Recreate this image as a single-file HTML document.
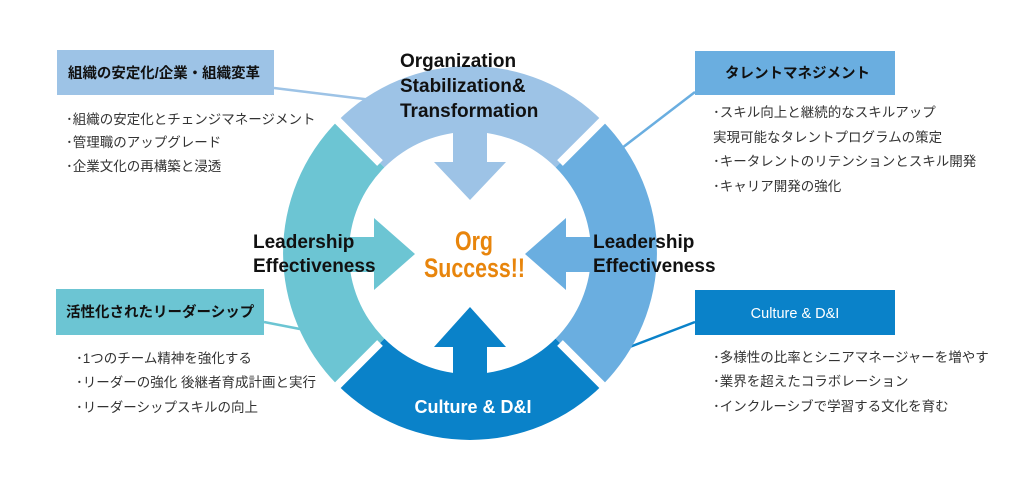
<!DOCTYPE html>
<html><head><meta charset="utf-8"><style>
body{margin:0;background:#fff;width:1024px;height:479px;overflow:hidden}
svg{display:block}
.jp{font-family:"Liberation Sans","Noto Sans CJK JP",sans-serif}
</style></head><body>
<svg width="1024" height="479" viewBox="0 0 1024 479" class="jp">
<line x1="274" y1="88" x2="372" y2="100" stroke="#9dc3e6" stroke-width="2.5"/>
<line x1="695" y1="92" x2="622" y2="148" stroke="#6aaee0" stroke-width="2.5"/>
<line x1="264" y1="322" x2="305" y2="330" stroke="#6cc5d3" stroke-width="2.5"/>
<line x1="695" y1="322" x2="580" y2="366" stroke="#0a82c9" stroke-width="2.5"/>
<path d="M337.8,120.8 A187,187 0 0 1 602.2,120.8 L555.6,167.4 A121,121 0 0 0 384.4,167.4 Z" fill="#9dc3e6"/>
<path d="M602.2,120.8 A187,187 0 0 1 602.2,385.2 L555.6,338.6 A121,121 0 0 0 555.6,167.4 Z" fill="#6aaee0"/>
<path d="M602.2,385.2 A187,187 0 0 1 337.8,385.2 L384.4,338.6 A121,121 0 0 0 555.6,338.6 Z" fill="#0a82c9"/>
<path d="M337.8,385.2 A187,187 0 0 1 337.8,120.8 L384.4,167.4 A121,121 0 0 0 384.4,338.6 Z" fill="#6cc5d3"/>
<g stroke="#fff" stroke-width="8">
<line x1="380" y1="163" x2="330" y2="113"/><line x1="560" y1="163" x2="610" y2="113"/>
<line x1="380" y1="343" x2="330" y2="393"/><line x1="560" y1="343" x2="610" y2="393"/>
</g>
<polygon points="453,120 487,120 487,162 506,162 470,200 434,162 453,162" fill="#9dc3e6"/>
<polygon points="335,237 374,237 374,218 415,254 374,290 374,272 335,272" fill="#6cc5d3"/>
<polygon points="605,237 566,237 566,218 525,254 566,290 566,272 605,272" fill="#6aaee0"/>
<polygon points="453,385 487,385 487,347 506,347 470,307 434,347 453,347" fill="#0a82c9"/>
<g font-family="Liberation Sans, sans-serif" font-weight="bold" font-size="19" fill="#111">
<text x="400" y="67">Organization</text>
<text x="400" y="92">Stabilization&amp;</text>
<text x="400" y="117">Transformation</text>
<text x="253" y="248">Leadership</text>
<text x="253" y="272">Effectiveness</text>
<text x="593" y="248">Leadership</text>
<text x="593" y="272">Effectiveness</text>
</g>
<text x="473" y="413" text-anchor="middle" font-family="Liberation Sans, sans-serif" font-weight="bold" font-size="18" fill="#fff">Culture &amp; D&amp;I</text>
<g font-family="Liberation Sans Narrow, Liberation Sans, sans-serif" font-weight="bold" font-size="27" fill="#e8850c">
<text x="455" y="250" textLength="38" lengthAdjust="spacingAndGlyphs">Org</text>
<text x="424" y="277" textLength="101" lengthAdjust="spacingAndGlyphs">Success!!</text>
</g>
<rect x="57" y="50" width="217" height="45" fill="#9dc3e6"/>
<text x="68" y="78" font-size="14.5" font-weight="bold" fill="#111" textLength="192" lengthAdjust="spacingAndGlyphs">組織の安定化/企業・組織変革</text>
<rect x="695" y="51" width="200" height="44" fill="#6aaee0"/>
<text x="725" y="78" font-size="14.5" font-weight="bold" fill="#111">タレントマネジメント</text>
<rect x="56" y="289" width="208" height="46" fill="#6cc5d3"/>
<text x="66" y="317" font-size="14.5" font-weight="bold" fill="#111">活性化されたリーダーシップ</text>
<rect x="695" y="290" width="200" height="45" fill="#0a82c9"/>
<text x="795" y="318" text-anchor="middle" font-family="Liberation Sans, sans-serif" font-size="14.5" fill="#fff">Culture &amp; D&amp;I</text>
<g font-size="13.5" fill="#333">
<text x="66" y="124">･組織の安定化とチェンジマネージメント</text>
<text x="66" y="147">･管理職のアップグレード</text>
<text x="66" y="171">･企業文化の再構築と浸透</text>
<text x="713" y="117">･スキル向上と継続的なスキルアップ</text>
<text x="713" y="142">実現可能なタレントプログラムの策定</text>
<text x="713" y="166">･キータレントのリテンションとスキル開発</text>
<text x="713" y="191">･キャリア開発の強化</text>
<text x="76" y="363">･1つのチーム精神を強化する</text>
<text x="76" y="387">･リーダーの強化 後継者育成計画と実行</text>
<text x="76" y="412">･リーダーシップスキルの向上</text>
<text x="713" y="362">･多様性の比率とシニアマネージャーを増やす</text>
<text x="713" y="386">･業界を超えたコラボレーション</text>
<text x="713" y="411">･インクルーシブで学習する文化を育む</text>
</g>
</svg>
</body></html>
